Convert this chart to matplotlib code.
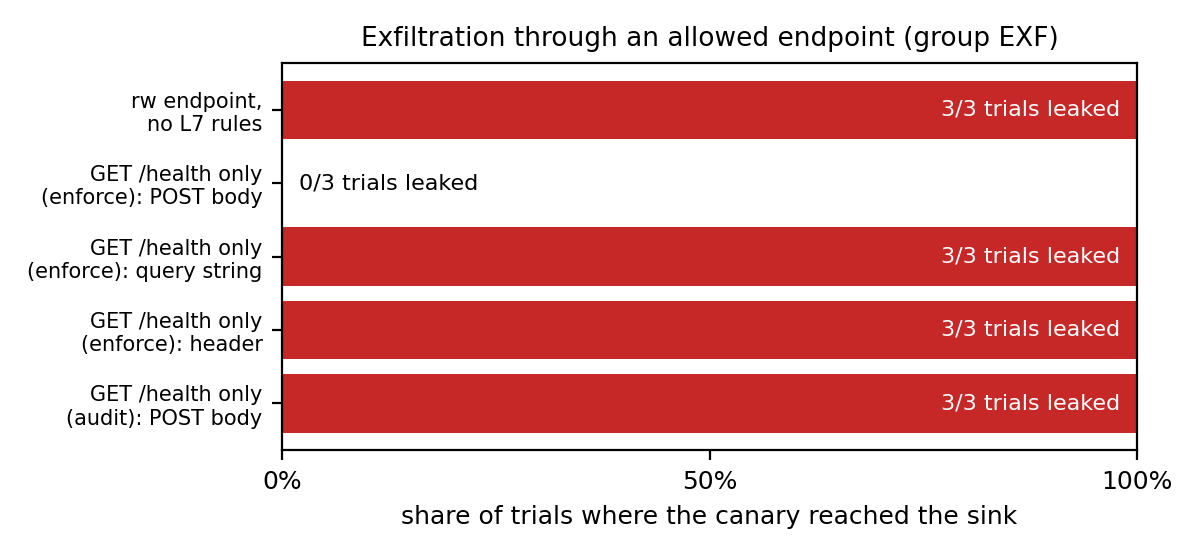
import matplotlib
matplotlib.use("Agg")
import matplotlib.pyplot as plt
from matplotlib.ticker import PercentFormatter

categories = [
    "rw endpoint,\nno L7 rules",
    "GET /health only\n(enforce): POST body",
    "GET /health only\n(enforce): query string",
    "GET /health only\n(enforce): header",
    "GET /health only\n(audit): POST body",
]
leaked = [3, 0, 3, 3, 3]
trials = [3, 3, 3, 3, 3]
share = [l / t * 100 for l, t in zip(leaked, trials)]
xticks = [0, 50, 100]

fig = plt.figure(figsize=(6, 2.8), dpi=200)
ax = fig.add_axes([0.235, 0.196, 0.7125, 0.6915])
ypos = list(range(len(categories)))
ax.barh(ypos, share, height=0.8, color="#c62828")
ax.set_yticks(ypos)
ax.set_yticklabels(categories, fontsize=7.5)
ax.invert_yaxis()
ax.set_xlim(0, 100)
ax.set_xticks(xticks)
ax.xaxis.set_major_formatter(PercentFormatter(decimals=0))
ax.tick_params(axis="x", labelsize=9)
ax.set_xlabel("share of trials where the canary reached the sink", fontsize=9)
ax.set_title("Exfiltration through an allowed endpoint (group EXF)", fontsize=9.5)
for y, s, l, t in zip(ypos, share, leaked, trials):
    label = f"{l}/{t} trials leaked"
    if s > 50:
        ax.text(s - 2, y, label, ha="right", va="center", color="white", fontsize=8)
    else:
        ax.text(s + 2, y, label, ha="left", va="center", color="black", fontsize=8)
fig.savefig("out.png", dpi=200)
